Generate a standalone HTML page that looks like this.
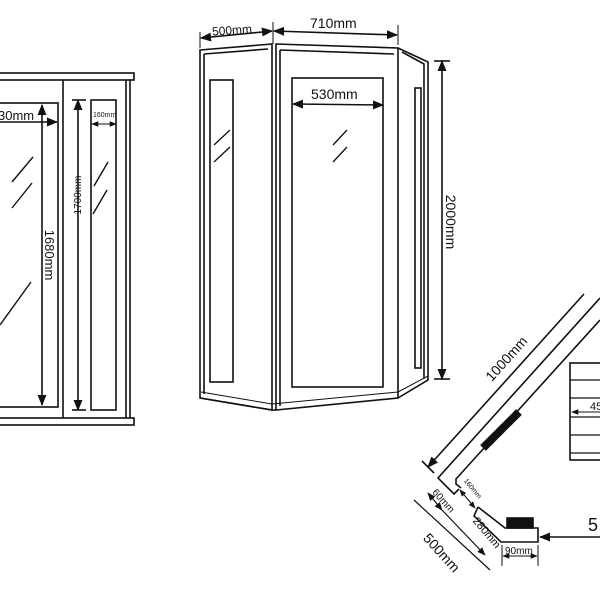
<!DOCTYPE html>
<html><head><style>html,body{margin:0;padding:0;background:#fff}svg{display:block}</style></head>
<body>
<svg width="600" height="600" viewBox="0 0 600 600" xmlns="http://www.w3.org/2000/svg" font-family="Liberation Sans, sans-serif" fill="none" stroke="#111" stroke-width="1.6">
<defs>
<marker id="a" viewBox="0 0 10 10" refX="9" refY="5" markerWidth="7" markerHeight="7" orient="auto-start-reverse"><path d="M0,1 L10,5 L0,9 z" fill="#111" stroke="none"/></marker>
</defs>
<!-- Left cabinet -->
<rect x="-5" y="73" width="139" height="7"/>
<rect x="-5" y="418" width="139" height="7"/>
<line x1="63" y1="80" x2="63" y2="418"/>
<line x1="126" y1="80" x2="126" y2="418"/>
<line x1="130" y1="80" x2="130" y2="418"/>
<rect x="-5" y="103" width="63" height="304"/>
<rect x="91" y="100" width="25" height="310"/>
<line x1="42" y1="105" x2="42" y2="405" marker-start="url(#a)" marker-end="url(#a)"/>
<line x1="78" y1="100" x2="78" y2="410" marker-start="url(#a)" marker-end="url(#a)"/>
<line x1="72" y1="100" x2="86" y2="100"/><line x1="72" y1="410" x2="86" y2="410"/>
<line x1="0" y1="122" x2="57" y2="122" marker-end="url(#a)"/>
<line x1="92" y1="124" x2="116" y2="124" marker-start="url(#a)" marker-end="url(#a)" stroke-width="1"/>
<g stroke-width="1.4"><line x1="33" y1="157" x2="12" y2="182"/><line x1="32" y1="183" x2="12" y2="208"/><line x1="31" y1="282" x2="0" y2="325"/>
<line x1="108" y1="162" x2="94" y2="186"/><line x1="107" y1="190" x2="93" y2="214"/></g>
<g fill="#111" stroke="none">
<text x="-2" y="120" font-size="13">30mm</text>
<text x="93" y="117" font-size="7">160mm</text>
<text transform="translate(45,255) rotate(90)" font-size="13" text-anchor="middle">1680mm</text>
<text transform="translate(81,195) rotate(-90)" font-size="10" text-anchor="middle">1700mm</text>
</g>
<!-- Middle cabinet -->
<path d="M200,50 L272,44 L272,410 L200,398 Z"/>
<path d="M204,54 L268,49 M204,54 L204,394"/>
<path d="M276,44 L398,48 L398,398 L276,410 Z"/>
<path d="M280,50 L394,54 M280,50 L280,406"/>
<path d="M398,48 L428,62 L428,380 L398,398"/>
<path d="M402,52 L424,64 L424,378"/>
<path d="M200,398 L272,410 L276,410"/>
<path d="M201,392 L272,404 L398,392 L428,376" stroke-width="1"/>
<rect x="210" y="80" width="23" height="302"/>
<rect x="292" y="78" width="91" height="309"/>
<rect x="415" y="88" width="6" height="280"/>
<g stroke-width="1.3"><line x1="230" y1="130" x2="214" y2="145"/><line x1="230" y1="147" x2="214" y2="162"/>
<line x1="347" y1="130" x2="333" y2="145"/><line x1="347" y1="147" x2="333" y2="162"/></g>
<line x1="200" y1="32" x2="200" y2="48" stroke-width="1"/><line x1="273" y1="22" x2="273" y2="44" stroke-width="1"/><line x1="398" y1="25" x2="398" y2="45" stroke-width="1"/>
<line x1="201" y1="38" x2="272" y2="31" marker-start="url(#a)" marker-end="url(#a)"/>
<line x1="274" y1="31" x2="397" y2="35" marker-start="url(#a)" marker-end="url(#a)"/>
<line x1="293" y1="104" x2="383" y2="105" marker-start="url(#a)" marker-end="url(#a)"/>
<line x1="442" y1="61" x2="442" y2="379" marker-start="url(#a)" marker-end="url(#a)"/>
<line x1="434" y1="61" x2="450" y2="61"/><line x1="434" y1="379" x2="450" y2="379"/>
<g fill="#111" stroke="none">
<text x="212" y="34" font-size="12" transform="rotate(-4 236 30)">500mm</text>
<text x="310" y="28" font-size="14">710mm</text>
<text x="311" y="99" font-size="14">530mm</text>
<text transform="translate(446,222) rotate(90)" font-size="14" text-anchor="middle">2000mm</text>
</g>
<!-- Bottom right plan -->
<polyline points="600,298 438,478 454,494 459,489"/>
<polyline points="600,320 456,479 456,484 461,488"/>
<line x1="483" y1="448" x2="519" y2="412" stroke-width="8"/>
<polyline points="478,507 505,528 538,528 538,542 501,542 474,516 478,507"/>
<rect x="507" y="518" width="26" height="10" fill="#111"/>
<line x1="600" y1="537" x2="540" y2="537" marker-end="url(#a)"/>
<line x1="428" y1="467" x2="584" y2="294" marker-start="url(#a)"/>
<line x1="422" y1="461" x2="434" y2="473"/>
<line x1="414" y1="500" x2="490" y2="570" stroke-width="1.2"/>
<line x1="428" y1="493" x2="442" y2="510" marker-start="url(#a)" marker-end="url(#a)" stroke-width="1.2"/>
<line x1="442" y1="510" x2="485" y2="555" marker-end="url(#a)" stroke-width="1.2"/>
<line x1="460" y1="490" x2="475" y2="508" marker-start="url(#a)" marker-end="url(#a)" stroke-width="1"/>
<line x1="502" y1="545" x2="502" y2="566" stroke-width="1"/><line x1="538" y1="545" x2="538" y2="566" stroke-width="1"/>
<line x1="503" y1="556" x2="537" y2="556" marker-start="url(#a)" marker-end="url(#a)" stroke-width="1"/>
<rect x="570" y="363" width="35" height="97"/>
<g stroke-width="1.2"><line x1="570" y1="380" x2="600" y2="380"/><line x1="570" y1="398" x2="600" y2="398"/><line x1="570" y1="417" x2="600" y2="417"/><line x1="570" y1="435" x2="600" y2="435"/><line x1="570" y1="453" x2="600" y2="453"/></g>
<line x1="600" y1="412" x2="572" y2="412" marker-end="url(#a)" stroke-width="1"/>
<g fill="#111" stroke="none">
<text transform="translate(510,362) rotate(-48)" font-size="14" text-anchor="middle">1000mm</text>
<text transform="translate(438,556) rotate(48)" font-size="14" text-anchor="middle">500mm</text>
<text transform="translate(441,503) rotate(48)" font-size="10" text-anchor="middle">60mm</text>
<text transform="translate(484,535) rotate(50)" font-size="11" text-anchor="middle">280mm</text>
<text transform="translate(471,490) rotate(50)" font-size="7" text-anchor="middle">160mm</text>
<text x="505" y="554" font-size="10">90mm</text>
<text x="588" y="531" font-size="18">5</text>
<text x="590" y="410" font-size="11">45</text>
</g>
</svg>
</body></html>
